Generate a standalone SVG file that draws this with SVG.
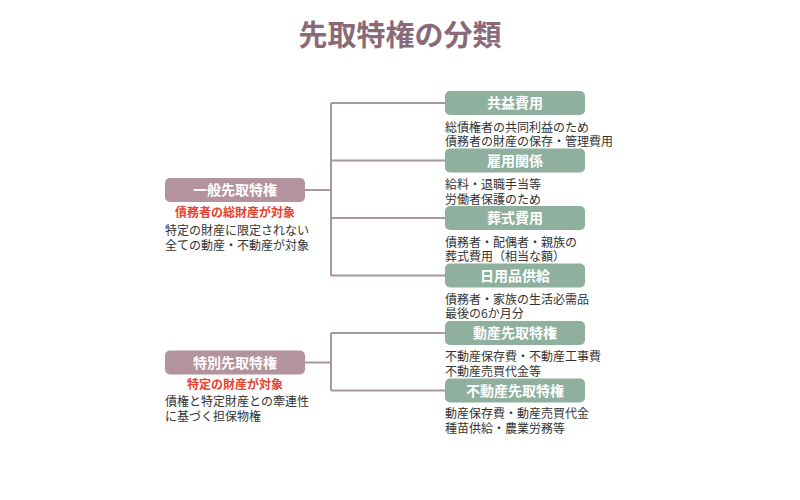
<svg xmlns="http://www.w3.org/2000/svg" width="800" height="500" viewBox="0 0 800 500">
<style>
.title{font-family:"Noto Sans CJK JP","Noto Sans",sans-serif;font-size:29px;font-weight:bold;fill:#8a6a78}
.lab{font-family:"Noto Sans CJK JP",sans-serif;font-size:14px;font-weight:bold;fill:#ffffff;text-anchor:middle}
.desc{font-family:"Noto Sans CJK JP",sans-serif;font-size:12px;fill:#333333}
.red{font-family:"Noto Sans CJK JP",sans-serif;font-size:12px;font-weight:bold;fill:#e8412c;text-anchor:middle}
.mauve{fill:#b3939e}
.green{fill:#8fb09f}
.conn{fill:none;stroke:#a8979f;stroke-width:2}
</style>
<rect width="800" height="500" fill="#ffffff"/>
<text class="title" x="400" y="46" text-anchor="middle">先取特権の分類</text>
<g id="connectors">
<path class="conn" d="M305,190 H331 M331,103 V276 M331,103 H445 M331,160.5 H445 M331,218 H445 M331,275.5 H445"/>
<path class="conn" d="M305,362.5 H331 M331,333 V390.5 M331,333 H445 M331,390.5 H445"/>
</g>
<g id="general">
<rect class="mauve" x="165" y="178" width="140" height="24" rx="5"/>
<text class="lab" x="235" y="195">一般先取特権</text>
<text class="red" x="235" y="217">債務者の総財産が対象</text>
<text class="desc" x="165" y="234.5">特定の財産に限定されない</text>
<text class="desc" x="165" y="249.5">全ての動産・不動産が対象</text>
</g>
<g id="special">
<rect class="mauve" x="165" y="350.5" width="140" height="24" rx="5"/>
<text class="lab" x="235" y="367.5">特別先取特権</text>
<text class="red" x="235" y="388.5">特定の財産が対象</text>
<text class="desc" x="165" y="405.5">債権と特定財産との牽連性</text>
<text class="desc" x="165" y="420.5">に基づく担保物権</text>
</g>
<g id="kyoueki">
<rect class="green" x="445" y="91" width="140" height="24" rx="5"/>
<text class="lab" x="515" y="108">共益費用</text>
<text class="desc" x="445" y="131.5">総債権者の共同利益のため</text>
<text class="desc" x="445" y="146">債務者の財産の保存・管理費用</text>
</g>
<g id="koyou">
<rect class="green" x="445" y="148.5" width="140" height="24" rx="5"/>
<text class="lab" x="515" y="165.5">雇用関係</text>
<text class="desc" x="445" y="189">給料・退職手当等</text>
<text class="desc" x="445" y="203.5">労働者保護のため</text>
</g>
<g id="soushiki">
<rect class="green" x="445" y="206" width="140" height="24" rx="5"/>
<text class="lab" x="515" y="223">葬式費用</text>
<text class="desc" x="445" y="246.5">債務者・配偶者・親族の</text>
<text class="desc" x="445" y="261">葬式費用（相当な額）</text>
</g>
<g id="nichiyouhin">
<rect class="green" x="445" y="263.5" width="140" height="24" rx="5"/>
<text class="lab" x="515" y="280.5">日用品供給</text>
<text class="desc" x="445" y="303.5">債務者・家族の生活必需品</text>
<text class="desc" x="445" y="318">最後の6か月分</text>
</g>
<g id="dousan">
<rect class="green" x="445" y="321" width="140" height="24" rx="5"/>
<text class="lab" x="515" y="338">動産先取特権</text>
<text class="desc" x="445" y="361">不動産保存費・不動産工事費</text>
<text class="desc" x="445" y="375.5">不動産売買代金等</text>
</g>
<g id="fudousan">
<rect class="green" x="445" y="378.5" width="140" height="24" rx="5"/>
<text class="lab" x="515" y="395.5">不動産先取特権</text>
<text class="desc" x="445" y="418">動産保存費・動産売買代金</text>
<text class="desc" x="445" y="433">種苗供給・農業労務等</text>
</g>
</svg>
